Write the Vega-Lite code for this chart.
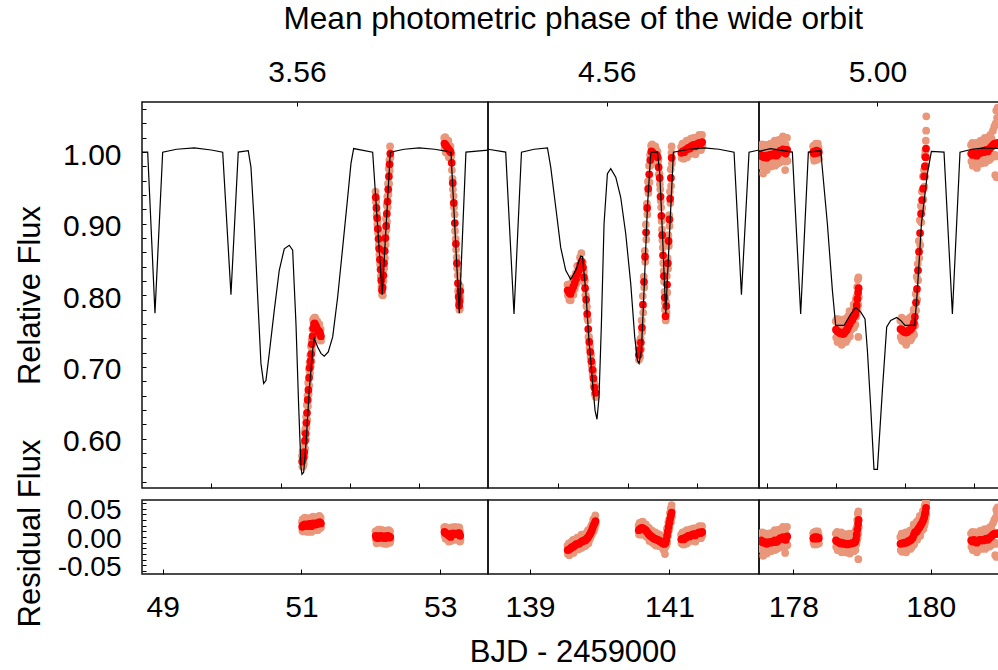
{
  "$schema": "https://vega.github.io/schema/vega-lite/v6.json",
  "background": "white",
  "padding": {"left": 13, "top": 2, "right": 0, "bottom": 0},
  "config": {
    "font": "Liberation Sans",
    "view": {"stroke": "#111111", "strokeWidth": 1.5},
    "axis": {"grid": false, "domain": false, "tickColor": "#000000", "tickWidth": 1, "labelColor": "#000000", "labelFont": "Liberation Sans", "labelFontSize": 30, "titleFont": "Liberation Sans", "titleFontSize": 31, "titleFontWeight": "normal", "titleColor": "#000000", "labelFlush": false, "labelOverlap": false, "labelBound": false}
  },
  "datasets": {
    "model": [
      {"p":1,"t":48.702,"m":1.000},{"p":1,"t":48.784,"m":1.000},{"p":1,"t":48.889,"m":0.775},{"p":1,"t":49.000,"m":1.000},{"p":1,"t":49.200,"m":1.004},{"p":1,"t":49.455,"m":1.006},{"p":1,"t":49.700,"m":1.003},{"p":1,"t":49.865,"m":1.000},{"p":1,"t":49.984,"m":0.801},{"p":1,"t":50.089,"m":1.000},{"p":1,"t":50.233,"m":1.002},{"p":1,"t":50.272,"m":0.979},{"p":1,"t":50.320,"m":0.900},{"p":1,"t":50.369,"m":0.798},{"p":1,"t":50.416,"m":0.705},{"p":1,"t":50.455,"m":0.677},{"p":1,"t":50.488,"m":0.681},{"p":1,"t":50.536,"m":0.719},{"p":1,"t":50.608,"m":0.779},{"p":1,"t":50.680,"m":0.835},{"p":1,"t":50.752,"m":0.865},{"p":1,"t":50.824,"m":0.870},{"p":1,"t":50.873,"m":0.863},{"p":1,"t":50.921,"m":0.760},{"p":1,"t":50.960,"m":0.644},{"p":1,"t":50.993,"m":0.560},{"p":1,"t":51.007,"m":0.550},{"p":1,"t":51.032,"m":0.553},{"p":1,"t":51.065,"m":0.593},{"p":1,"t":51.112,"m":0.667},{"p":1,"t":51.161,"m":0.723},{"p":1,"t":51.184,"m":0.740},{"p":1,"t":51.233,"m":0.728},{"p":1,"t":51.281,"m":0.719},{"p":1,"t":51.329,"m":0.715},{"p":1,"t":51.386,"m":0.721},{"p":1,"t":51.450,"m":0.742},{"p":1,"t":51.522,"m":0.798},{"p":1,"t":51.594,"m":0.867},{"p":1,"t":51.666,"m":0.937},{"p":1,"t":51.713,"m":0.984},{"p":1,"t":51.752,"m":1.005},{"p":1,"t":52.026,"m":1.000},{"p":1,"t":52.164,"m":0.801},{"p":1,"t":52.280,"m":1.000},{"p":1,"t":52.480,"m":1.004},{"p":1,"t":52.697,"m":1.006},{"p":1,"t":52.920,"m":1.004},{"p":1,"t":53.154,"m":1.000},{"p":1,"t":53.274,"m":0.775},{"p":1,"t":53.370,"m":1.000},{"p":1,"t":53.706,"m":1.003},
      {"p":2,"t":138.397,"m":1.004},{"p":2,"t":138.651,"m":1.000},{"p":2,"t":138.770,"m":0.774},{"p":2,"t":138.877,"m":1.000},{"p":2,"t":139.060,"m":1.004},{"p":2,"t":139.250,"m":1.006},{"p":2,"t":139.297,"m":0.979},{"p":2,"t":139.369,"m":0.923},{"p":2,"t":139.440,"m":0.867},{"p":2,"t":139.512,"m":0.835},{"p":2,"t":139.584,"m":0.822},{"p":2,"t":139.656,"m":0.835},{"p":2,"t":139.727,"m":0.855},{"p":2,"t":139.752,"m":0.854},{"p":2,"t":139.799,"m":0.807},{"p":2,"t":139.846,"m":0.737},{"p":2,"t":139.895,"m":0.681},{"p":2,"t":139.933,"m":0.639},{"p":2,"t":139.961,"m":0.627},{"p":2,"t":139.990,"m":0.658},{"p":2,"t":140.024,"m":0.760},{"p":2,"t":140.062,"m":0.900},{"p":2,"t":140.110,"m":0.970},{"p":2,"t":140.158,"m":0.977},{"p":2,"t":140.230,"m":0.965},{"p":2,"t":140.301,"m":0.937},{"p":2,"t":140.373,"m":0.886},{"p":2,"t":140.445,"m":0.816},{"p":2,"t":140.502,"m":0.742},{"p":2,"t":140.541,"m":0.709},{"p":2,"t":140.564,"m":0.705},{"p":2,"t":140.598,"m":0.723},{"p":2,"t":140.636,"m":0.807},{"p":2,"t":140.684,"m":0.923},{"p":2,"t":140.732,"m":0.998},{"p":2,"t":140.742,"m":1.000},{"p":2,"t":140.828,"m":1.000},{"p":2,"t":140.861,"m":0.970},{"p":2,"t":140.900,"m":0.886},{"p":2,"t":140.947,"m":0.774},{"p":2,"t":141.057,"m":1.000},{"p":2,"t":141.280,"m":1.004},{"p":2,"t":141.496,"m":1.006},{"p":2,"t":141.710,"m":1.004},{"p":2,"t":141.927,"m":1.000},{"p":2,"t":142.033,"m":0.801},{"p":2,"t":142.142,"m":1.000},{"p":2,"t":142.285,"m":1.003},
      {"p":3,"t":177.499,"m":1.001},{"p":3,"t":177.669,"m":1.005},{"p":3,"t":177.985,"m":1.000},{"p":3,"t":178.106,"m":0.774},{"p":3,"t":178.218,"m":1.000},{"p":3,"t":178.398,"m":1.002},{"p":3,"t":178.495,"m":0.900},{"p":3,"t":178.568,"m":0.807},{"p":3,"t":178.616,"m":0.758},{"p":3,"t":178.737,"m":0.758},{"p":3,"t":178.835,"m":0.774},{"p":3,"t":178.908,"m":0.783},{"p":3,"t":178.980,"m":0.777},{"p":3,"t":179.043,"m":0.767},{"p":3,"t":179.078,"m":0.723},{"p":3,"t":179.126,"m":0.644},{"p":3,"t":179.174,"m":0.557},{"p":3,"t":179.224,"m":0.557},{"p":3,"t":179.296,"m":0.667},{"p":3,"t":179.359,"m":0.756},{"p":3,"t":179.417,"m":0.765},{"p":3,"t":179.505,"m":0.769},{"p":3,"t":179.563,"m":0.765},{"p":3,"t":179.626,"m":0.758},{"p":3,"t":179.767,"m":0.758},{"p":3,"t":179.806,"m":0.807},{"p":3,"t":179.865,"m":0.900},{"p":3,"t":179.952,"m":0.970},{"p":3,"t":180.010,"m":1.001},{"p":3,"t":180.194,"m":1.000},{"p":3,"t":180.316,"m":0.774},{"p":3,"t":180.427,"m":1.000},{"p":3,"t":180.600,"m":1.004},{"p":3,"t":180.777,"m":1.006},{"p":3,"t":180.995,"m":1.005}
    ],
    "obs": [
      {"p":1,"k":"bin","t":51.010,"f":0.568,"r":0.018},{"p":1,"k":"bin","t":51.020,"f":0.571,"r":0.020},{"p":1,"k":"bin","t":51.030,"f":0.574,"r":0.021},{"p":1,"k":"bin","t":51.040,"f":0.581,"r":0.019},{"p":1,"k":"bin","t":51.050,"f":0.597,"r":0.022},{"p":1,"k":"bin","t":51.060,"f":0.607,"r":0.020},{"p":1,"k":"bin","t":51.070,"f":0.622,"r":0.021},{"p":1,"k":"bin","t":51.080,"f":0.636,"r":0.019},{"p":1,"k":"bin","t":51.090,"f":0.654,"r":0.022},{"p":1,"k":"bin","t":51.100,"f":0.668,"r":0.020},{"p":1,"k":"bin","t":51.110,"f":0.685,"r":0.021},{"p":1,"k":"bin","t":51.120,"f":0.699,"r":0.023},{"p":1,"k":"bin","t":51.130,"f":0.708,"r":0.020},{"p":1,"k":"bin","t":51.140,"f":0.718,"r":0.019},{"p":1,"k":"bin","t":51.150,"f":0.732,"r":0.022},{"p":1,"k":"bin","t":51.160,"f":0.743,"r":0.021},{"p":1,"k":"bin","t":51.170,"f":0.754,"r":0.024},{"p":1,"k":"bin","t":51.180,"f":0.760,"r":0.023},{"p":1,"k":"bin","t":51.190,"f":0.761,"r":0.022},{"p":1,"k":"bin","t":51.200,"f":0.758,"r":0.022},{"p":1,"k":"bin","t":51.210,"f":0.757,"r":0.024},{"p":1,"k":"bin","t":51.220,"f":0.754,"r":0.023},{"p":1,"k":"bin","t":51.230,"f":0.752,"r":0.023},{"p":1,"k":"bin","t":51.240,"f":0.751,"r":0.024},{"p":1,"k":"bin","t":51.250,"f":0.750,"r":0.025},{"p":1,"k":"bin","t":51.260,"f":0.749,"r":0.026},{"p":1,"k":"bin","t":51.270,"f":0.746,"r":0.025},{"p":1,"k":"bin","t":51.280,"f":0.743,"r":0.024},
      {"p":1,"k":"raw","t":51.007,"f":0.576,"r":0.026},{"p":1,"k":"raw","t":51.013,"f":0.561,"r":0.011},{"p":1,"k":"raw","t":51.017,"f":0.582,"r":0.031},{"p":1,"k":"raw","t":51.023,"f":0.561,"r":0.010},{"p":1,"k":"raw","t":51.027,"f":0.580,"r":0.027},{"p":1,"k":"raw","t":51.033,"f":0.565,"r":0.012},{"p":1,"k":"raw","t":51.037,"f":0.591,"r":0.029},{"p":1,"k":"raw","t":51.043,"f":0.575,"r":0.013},{"p":1,"k":"raw","t":51.047,"f":0.609,"r":0.034},{"p":1,"k":"raw","t":51.053,"f":0.586,"r":0.011},{"p":1,"k":"raw","t":51.057,"f":0.614,"r":0.027},{"p":1,"k":"raw","t":51.063,"f":0.599,"r":0.012},{"p":1,"k":"raw","t":51.067,"f":0.630,"r":0.029},{"p":1,"k":"raw","t":51.073,"f":0.615,"r":0.014},{"p":1,"k":"raw","t":51.077,"f":0.647,"r":0.030},{"p":1,"k":"raw","t":51.083,"f":0.626,"r":0.009},{"p":1,"k":"raw","t":51.087,"f":0.660,"r":0.028},{"p":1,"k":"raw","t":51.093,"f":0.645,"r":0.013},{"p":1,"k":"raw","t":51.097,"f":0.678,"r":0.030},{"p":1,"k":"raw","t":51.103,"f":0.662,"r":0.014},{"p":1,"k":"raw","t":51.107,"f":0.697,"r":0.033},{"p":1,"k":"raw","t":51.113,"f":0.674,"r":0.010},{"p":1,"k":"raw","t":51.117,"f":0.706,"r":0.030},{"p":1,"k":"raw","t":51.123,"f":0.691,"r":0.015},{"p":1,"k":"raw","t":51.127,"f":0.716,"r":0.028},{"p":1,"k":"raw","t":51.133,"f":0.701,"r":0.013},{"p":1,"k":"raw","t":51.137,"f":0.729,"r":0.030},{"p":1,"k":"raw","t":51.143,"f":0.708,"r":0.009},{"p":1,"k":"raw","t":51.147,"f":0.738,"r":0.028},{"p":1,"k":"raw","t":51.153,"f":0.723,"r":0.013},{"p":1,"k":"raw","t":51.157,"f":0.753,"r":0.031},{"p":1,"k":"raw","t":51.163,"f":0.737,"r":0.015},{"p":1,"k":"raw","t":51.167,"f":0.766,"r":0.036},{"p":1,"k":"raw","t":51.173,"f":0.743,"r":0.013},{"p":1,"k":"raw","t":51.177,"f":0.767,"r":0.030},{"p":1,"k":"raw","t":51.183,"f":0.752,"r":0.015},{"p":1,"k":"raw","t":51.187,"f":0.769,"r":0.030},{"p":1,"k":"raw","t":51.193,"f":0.754,"r":0.015},{"p":1,"k":"raw","t":51.197,"f":0.769,"r":0.033},{"p":1,"k":"raw","t":51.203,"f":0.748,"r":0.012},{"p":1,"k":"raw","t":51.207,"f":0.763,"r":0.030},{"p":1,"k":"raw","t":51.213,"f":0.748,"r":0.015},{"p":1,"k":"raw","t":51.217,"f":0.764,"r":0.033},{"p":1,"k":"raw","t":51.223,"f":0.748,"r":0.017},{"p":1,"k":"raw","t":51.227,"f":0.764,"r":0.035},{"p":1,"k":"raw","t":51.233,"f":0.741,"r":0.012},{"p":1,"k":"raw","t":51.237,"f":0.758,"r":0.031},{"p":1,"k":"raw","t":51.243,"f":0.743,"r":0.016},{"p":1,"k":"raw","t":51.247,"f":0.758,"r":0.033},{"p":1,"k":"raw","t":51.253,"f":0.743,"r":0.018},{"p":1,"k":"raw","t":51.257,"f":0.760,"r":0.037},{"p":1,"k":"raw","t":51.263,"f":0.739,"r":0.016},{"p":1,"k":"raw","t":51.267,"f":0.752,"r":0.031},{"p":1,"k":"raw","t":51.273,"f":0.737,"r":0.016},{"p":1,"k":"raw","t":51.277,"f":0.753,"r":0.034},{"p":1,"k":"raw","t":51.283,"f":0.737,"r":0.018},
      {"p":1,"k":"bin","t":52.070,"f":0.937,"r":0.002},{"p":1,"k":"bin","t":52.080,"f":0.922,"r":-0.001},{"p":1,"k":"bin","t":52.090,"f":0.908,"r":0.000},{"p":1,"k":"bin","t":52.100,"f":0.893,"r":-0.002},{"p":1,"k":"bin","t":52.110,"f":0.879,"r":0.001},{"p":1,"k":"bin","t":52.120,"f":0.865,"r":0.000},{"p":1,"k":"bin","t":52.130,"f":0.850,"r":-0.001},{"p":1,"k":"bin","t":52.140,"f":0.836,"r":0.002},{"p":1,"k":"bin","t":52.150,"f":0.821,"r":0.000},{"p":1,"k":"bin","t":52.160,"f":0.807,"r":-0.001},{"p":1,"k":"bin","t":52.170,"f":0.811,"r":0.000},{"p":1,"k":"bin","t":52.180,"f":0.828,"r":0.001},{"p":1,"k":"bin","t":52.190,"f":0.845,"r":0.000},{"p":1,"k":"bin","t":52.200,"f":0.862,"r":-0.002},{"p":1,"k":"bin","t":52.210,"f":0.880,"r":0.001},{"p":1,"k":"bin","t":52.220,"f":0.897,"r":0.000},{"p":1,"k":"bin","t":52.230,"f":0.914,"r":-0.001},{"p":1,"k":"bin","t":52.240,"f":0.931,"r":0.002},{"p":1,"k":"bin","t":52.250,"f":0.948,"r":0.000},{"p":1,"k":"bin","t":52.260,"f":0.966,"r":0.001},{"p":1,"k":"bin","t":52.270,"f":0.983,"r":-0.001},{"p":1,"k":"bin","t":52.280,"f":0.998,"r":0.000},
      {"p":1,"k":"raw","t":52.067,"f":0.945,"r":0.010},{"p":1,"k":"raw","t":52.073,"f":0.930,"r":-0.005},{"p":1,"k":"raw","t":52.077,"f":0.933,"r":0.010},{"p":1,"k":"raw","t":52.083,"f":0.912,"r":-0.011},{"p":1,"k":"raw","t":52.087,"f":0.914,"r":0.006},{"p":1,"k":"raw","t":52.093,"f":0.899,"r":-0.009},{"p":1,"k":"raw","t":52.097,"f":0.903,"r":0.008},{"p":1,"k":"raw","t":52.103,"f":0.887,"r":-0.008},{"p":1,"k":"raw","t":52.107,"f":0.891,"r":0.013},{"p":1,"k":"raw","t":52.113,"f":0.868,"r":-0.010},{"p":1,"k":"raw","t":52.117,"f":0.872,"r":0.007},{"p":1,"k":"raw","t":52.123,"f":0.857,"r":-0.008},{"p":1,"k":"raw","t":52.127,"f":0.858,"r":0.007},{"p":1,"k":"raw","t":52.133,"f":0.843,"r":-0.008},{"p":1,"k":"raw","t":52.137,"f":0.847,"r":0.013},{"p":1,"k":"raw","t":52.143,"f":0.826,"r":-0.008},{"p":1,"k":"raw","t":52.147,"f":0.827,"r":0.006},{"p":1,"k":"raw","t":52.153,"f":0.812,"r":-0.009},{"p":1,"k":"raw","t":52.157,"f":0.817,"r":0.009},{"p":1,"k":"raw","t":52.163,"f":0.801,"r":-0.007},{"p":1,"k":"raw","t":52.167,"f":0.823,"r":0.012},{"p":1,"k":"raw","t":52.173,"f":0.800,"r":-0.011},{"p":1,"k":"raw","t":52.177,"f":0.835,"r":0.008},{"p":1,"k":"raw","t":52.183,"f":0.820,"r":-0.007},{"p":1,"k":"raw","t":52.187,"f":0.853,"r":0.008},{"p":1,"k":"raw","t":52.193,"f":0.838,"r":-0.007},{"p":1,"k":"raw","t":52.197,"f":0.873,"r":0.009},{"p":1,"k":"raw","t":52.203,"f":0.852,"r":-0.012},{"p":1,"k":"raw","t":52.207,"f":0.886,"r":0.007},{"p":1,"k":"raw","t":52.213,"f":0.871,"r":-0.008},{"p":1,"k":"raw","t":52.217,"f":0.907,"r":0.010},{"p":1,"k":"raw","t":52.223,"f":0.891,"r":-0.006},{"p":1,"k":"raw","t":52.227,"f":0.926,"r":0.011},{"p":1,"k":"raw","t":52.233,"f":0.903,"r":-0.012},{"p":1,"k":"raw","t":52.237,"f":0.938,"r":0.009},{"p":1,"k":"raw","t":52.243,"f":0.923,"r":-0.006},{"p":1,"k":"raw","t":52.247,"f":0.956,"r":0.008},{"p":1,"k":"raw","t":52.253,"f":0.941,"r":-0.007},{"p":1,"k":"raw","t":52.257,"f":0.977,"r":0.012},{"p":1,"k":"raw","t":52.263,"f":0.956,"r":-0.009},{"p":1,"k":"raw","t":52.267,"f":0.989,"r":0.005},{"p":1,"k":"raw","t":52.273,"f":0.974,"r":-0.010},{"p":1,"k":"raw","t":52.277,"f":1.008,"r":0.010},{"p":1,"k":"raw","t":52.283,"f":0.992,"r":-0.006},
      {"p":1,"k":"bin","t":53.060,"f":1.012,"r":0.009},{"p":1,"k":"bin","t":53.075,"f":1.010,"r":0.007},{"p":1,"k":"bin","t":53.090,"f":1.008,"r":0.006},{"p":1,"k":"bin","t":53.105,"f":1.006,"r":0.005},{"p":1,"k":"bin","t":53.120,"f":1.004,"r":0.003},{"p":1,"k":"bin","t":53.135,"f":1.002,"r":0.002},{"p":1,"k":"bin","t":53.150,"f":1.000,"r":0.000},{"p":1,"k":"bin","t":53.165,"f":0.985,"r":0.006},{"p":1,"k":"bin","t":53.180,"f":0.957,"r":0.006},{"p":1,"k":"bin","t":53.195,"f":0.929,"r":0.006},{"p":1,"k":"bin","t":53.210,"f":0.901,"r":0.006},{"p":1,"k":"bin","t":53.225,"f":0.872,"r":0.005},{"p":1,"k":"bin","t":53.240,"f":0.845,"r":0.006},{"p":1,"k":"bin","t":53.255,"f":0.817,"r":0.006},{"p":1,"k":"bin","t":53.265,"f":0.798,"r":0.006},{"p":1,"k":"bin","t":53.272,"f":0.786,"r":0.007},{"p":1,"k":"bin","t":53.280,"f":0.792,"r":0.003},{"p":1,"k":"bin","t":53.288,"f":0.806,"r":0.002},
      {"p":1,"k":"raw","t":53.057,"f":1.020,"r":0.017},{"p":1,"k":"raw","t":53.063,"f":1.005,"r":0.002},{"p":1,"k":"raw","t":53.072,"f":1.021,"r":0.018},{"p":1,"k":"raw","t":53.078,"f":1.000,"r":-0.003},{"p":1,"k":"raw","t":53.087,"f":1.014,"r":0.012},{"p":1,"k":"raw","t":53.093,"f":0.999,"r":-0.003},{"p":1,"k":"raw","t":53.102,"f":1.016,"r":0.015},{"p":1,"k":"raw","t":53.108,"f":1.000,"r":-0.001},{"p":1,"k":"raw","t":53.117,"f":1.016,"r":0.015},{"p":1,"k":"raw","t":53.123,"f":0.993,"r":-0.008},{"p":1,"k":"raw","t":53.132,"f":1.009,"r":0.009},{"p":1,"k":"raw","t":53.138,"f":0.994,"r":-0.006},{"p":1,"k":"raw","t":53.147,"f":1.008,"r":0.008},{"p":1,"k":"raw","t":53.153,"f":0.993,"r":-0.007},{"p":1,"k":"raw","t":53.162,"f":0.996,"r":0.017},{"p":1,"k":"raw","t":53.168,"f":0.975,"r":-0.004},{"p":1,"k":"raw","t":53.177,"f":0.963,"r":0.012},{"p":1,"k":"raw","t":53.183,"f":0.948,"r":-0.003},{"p":1,"k":"raw","t":53.192,"f":0.939,"r":0.016},{"p":1,"k":"raw","t":53.198,"f":0.923,"r":0.000},{"p":1,"k":"raw","t":53.207,"f":0.913,"r":0.018},{"p":1,"k":"raw","t":53.213,"f":0.890,"r":-0.005},{"p":1,"k":"raw","t":53.222,"f":0.879,"r":0.012},{"p":1,"k":"raw","t":53.228,"f":0.864,"r":-0.003},{"p":1,"k":"raw","t":53.237,"f":0.853,"r":0.014},{"p":1,"k":"raw","t":53.243,"f":0.838,"r":-0.001},{"p":1,"k":"raw","t":53.252,"f":0.828,"r":0.017},{"p":1,"k":"raw","t":53.258,"f":0.807,"r":-0.004},{"p":1,"k":"raw","t":53.262,"f":0.804,"r":0.012},{"p":1,"k":"raw","t":53.268,"f":0.789,"r":-0.003},{"p":1,"k":"raw","t":53.269,"f":0.796,"r":0.017},{"p":1,"k":"raw","t":53.275,"f":0.780,"r":0.001},{"p":1,"k":"raw","t":53.277,"f":0.805,"r":0.016},{"p":1,"k":"raw","t":53.283,"f":0.781,"r":-0.008},{"p":1,"k":"raw","t":53.285,"f":0.813,"r":0.009},{"p":1,"k":"raw","t":53.291,"f":0.798,"r":-0.006},
      {"p":2,"k":"bin","t":139.540,"f":0.807,"r":-0.023},{"p":2,"k":"bin","t":139.560,"f":0.804,"r":-0.022},{"p":2,"k":"bin","t":139.580,"f":0.802,"r":-0.020},{"p":2,"k":"bin","t":139.600,"f":0.807,"r":-0.018},{"p":2,"k":"bin","t":139.620,"f":0.812,"r":-0.017},{"p":2,"k":"bin","t":139.640,"f":0.817,"r":-0.015},{"p":2,"k":"bin","t":139.660,"f":0.823,"r":-0.013},{"p":2,"k":"bin","t":139.680,"f":0.830,"r":-0.012},{"p":2,"k":"bin","t":139.700,"f":0.835,"r":-0.012},{"p":2,"k":"bin","t":139.720,"f":0.843,"r":-0.010},{"p":2,"k":"bin","t":139.740,"f":0.847,"r":-0.008},{"p":2,"k":"bin","t":139.760,"f":0.839,"r":-0.007},{"p":2,"k":"bin","t":139.775,"f":0.825,"r":-0.006},{"p":2,"k":"bin","t":139.790,"f":0.810,"r":-0.006},{"p":2,"k":"bin","t":139.805,"f":0.794,"r":-0.004},{"p":2,"k":"bin","t":139.820,"f":0.774,"r":-0.002},{"p":2,"k":"bin","t":139.835,"f":0.753,"r":0.000},{"p":2,"k":"bin","t":139.850,"f":0.735,"r":0.003},{"p":2,"k":"bin","t":139.865,"f":0.721,"r":0.006},{"p":2,"k":"bin","t":139.880,"f":0.708,"r":0.010},{"p":2,"k":"bin","t":139.895,"f":0.696,"r":0.015},{"p":2,"k":"bin","t":139.910,"f":0.684,"r":0.020},{"p":2,"k":"bin","t":139.925,"f":0.671,"r":0.024},{"p":2,"k":"bin","t":139.940,"f":0.664,"r":0.028},
      {"p":2,"k":"raw","t":139.537,"f":0.815,"r":-0.015},{"p":2,"k":"raw","t":139.543,"f":0.800,"r":-0.030},{"p":2,"k":"raw","t":139.557,"f":0.815,"r":-0.011},{"p":2,"k":"raw","t":139.563,"f":0.794,"r":-0.032},{"p":2,"k":"raw","t":139.577,"f":0.808,"r":-0.014},{"p":2,"k":"raw","t":139.583,"f":0.793,"r":-0.029},{"p":2,"k":"raw","t":139.597,"f":0.817,"r":-0.008},{"p":2,"k":"raw","t":139.603,"f":0.801,"r":-0.024},{"p":2,"k":"raw","t":139.617,"f":0.824,"r":-0.005},{"p":2,"k":"raw","t":139.623,"f":0.801,"r":-0.028},{"p":2,"k":"raw","t":139.637,"f":0.824,"r":-0.008},{"p":2,"k":"raw","t":139.643,"f":0.809,"r":-0.023},{"p":2,"k":"raw","t":139.657,"f":0.831,"r":-0.005},{"p":2,"k":"raw","t":139.663,"f":0.816,"r":-0.020},{"p":2,"k":"raw","t":139.677,"f":0.841,"r":-0.001},{"p":2,"k":"raw","t":139.683,"f":0.820,"r":-0.022},{"p":2,"k":"raw","t":139.697,"f":0.841,"r":-0.006},{"p":2,"k":"raw","t":139.703,"f":0.826,"r":-0.021},{"p":2,"k":"raw","t":139.717,"f":0.853,"r":0.000},{"p":2,"k":"raw","t":139.723,"f":0.837,"r":-0.016},{"p":2,"k":"raw","t":139.737,"f":0.859,"r":0.004},{"p":2,"k":"raw","t":139.743,"f":0.836,"r":-0.019},{"p":2,"k":"raw","t":139.757,"f":0.846,"r":0.000},{"p":2,"k":"raw","t":139.763,"f":0.831,"r":-0.015},{"p":2,"k":"raw","t":139.772,"f":0.833,"r":0.002},{"p":2,"k":"raw","t":139.778,"f":0.818,"r":-0.013},{"p":2,"k":"raw","t":139.787,"f":0.821,"r":0.005},{"p":2,"k":"raw","t":139.793,"f":0.800,"r":-0.016},{"p":2,"k":"raw","t":139.802,"f":0.800,"r":0.002},{"p":2,"k":"raw","t":139.808,"f":0.785,"r":-0.013},{"p":2,"k":"raw","t":139.817,"f":0.784,"r":0.008},{"p":2,"k":"raw","t":139.823,"f":0.768,"r":-0.008},{"p":2,"k":"raw","t":139.832,"f":0.765,"r":0.012},{"p":2,"k":"raw","t":139.838,"f":0.742,"r":-0.011},{"p":2,"k":"raw","t":139.847,"f":0.742,"r":0.010},{"p":2,"k":"raw","t":139.853,"f":0.727,"r":-0.005},{"p":2,"k":"raw","t":139.862,"f":0.729,"r":0.014},{"p":2,"k":"raw","t":139.868,"f":0.714,"r":-0.001},{"p":2,"k":"raw","t":139.877,"f":0.717,"r":0.019},{"p":2,"k":"raw","t":139.883,"f":0.702,"r":0.004},{"p":2,"k":"raw","t":139.892,"f":0.704,"r":0.023},{"p":2,"k":"raw","t":139.898,"f":0.689,"r":0.008},{"p":2,"k":"raw","t":139.907,"f":0.695,"r":0.031},{"p":2,"k":"raw","t":139.913,"f":0.674,"r":0.010},{"p":2,"k":"raw","t":139.922,"f":0.677,"r":0.030},{"p":2,"k":"raw","t":139.928,"f":0.662,"r":0.015},{"p":2,"k":"raw","t":139.937,"f":0.674,"r":0.038},{"p":2,"k":"raw","t":139.943,"f":0.658,"r":0.022},
      {"p":2,"k":"bin","t":140.560,"f":0.717,"r":0.012},{"p":2,"k":"bin","t":140.575,"f":0.724,"r":0.014},{"p":2,"k":"bin","t":140.590,"f":0.734,"r":0.015},{"p":2,"k":"bin","t":140.605,"f":0.755,"r":0.016},{"p":2,"k":"bin","t":140.620,"f":0.787,"r":0.015},{"p":2,"k":"bin","t":140.635,"f":0.819,"r":0.014},{"p":2,"k":"bin","t":140.650,"f":0.854,"r":0.013},{"p":2,"k":"bin","t":140.665,"f":0.888,"r":0.011},{"p":2,"k":"bin","t":140.680,"f":0.922,"r":0.009},{"p":2,"k":"bin","t":140.695,"f":0.949,"r":0.006},{"p":2,"k":"bin","t":140.710,"f":0.969,"r":0.004},{"p":2,"k":"bin","t":140.725,"f":0.989,"r":0.002},{"p":2,"k":"bin","t":140.740,"f":1.001,"r":0.001},{"p":2,"k":"bin","t":140.755,"f":1.000,"r":0.000},{"p":2,"k":"bin","t":140.770,"f":0.998,"r":-0.002},{"p":2,"k":"bin","t":140.785,"f":0.997,"r":-0.003},{"p":2,"k":"bin","t":140.800,"f":0.996,"r":-0.004},{"p":2,"k":"bin","t":140.815,"f":0.996,"r":-0.004},{"p":2,"k":"bin","t":140.830,"f":0.993,"r":-0.005},{"p":2,"k":"bin","t":140.845,"f":0.979,"r":-0.006},{"p":2,"k":"bin","t":140.860,"f":0.964,"r":-0.007},{"p":2,"k":"bin","t":140.872,"f":0.938,"r":-0.008},{"p":2,"k":"bin","t":140.884,"f":0.911,"r":-0.009},{"p":2,"k":"bin","t":140.896,"f":0.884,"r":-0.010},{"p":2,"k":"bin","t":140.908,"f":0.856,"r":-0.011},{"p":2,"k":"bin","t":140.920,"f":0.827,"r":-0.012},{"p":2,"k":"bin","t":140.932,"f":0.797,"r":-0.012},{"p":2,"k":"bin","t":140.944,"f":0.771,"r":-0.010},{"p":2,"k":"bin","t":140.955,"f":0.785,"r":-0.005},{"p":2,"k":"bin","t":140.966,"f":0.815,"r":0.002},{"p":2,"k":"bin","t":140.977,"f":0.845,"r":0.010},{"p":2,"k":"bin","t":140.988,"f":0.876,"r":0.018},{"p":2,"k":"bin","t":140.999,"f":0.906,"r":0.025},{"p":2,"k":"bin","t":141.010,"f":0.935,"r":0.032},{"p":2,"k":"bin","t":141.021,"f":0.964,"r":0.038},{"p":2,"k":"bin","t":141.032,"f":0.992,"r":0.043},
      {"p":2,"k":"raw","t":140.557,"f":0.725,"r":0.020},{"p":2,"k":"raw","t":140.563,"f":0.710,"r":0.005},{"p":2,"k":"raw","t":140.572,"f":0.735,"r":0.025},{"p":2,"k":"raw","t":140.578,"f":0.714,"r":0.004},{"p":2,"k":"raw","t":140.587,"f":0.740,"r":0.021},{"p":2,"k":"raw","t":140.593,"f":0.725,"r":0.006},{"p":2,"k":"raw","t":140.602,"f":0.765,"r":0.026},{"p":2,"k":"raw","t":140.608,"f":0.749,"r":0.010},{"p":2,"k":"raw","t":140.617,"f":0.799,"r":0.027},{"p":2,"k":"raw","t":140.623,"f":0.776,"r":0.004},{"p":2,"k":"raw","t":140.632,"f":0.826,"r":0.021},{"p":2,"k":"raw","t":140.638,"f":0.811,"r":0.006},{"p":2,"k":"raw","t":140.647,"f":0.862,"r":0.021},{"p":2,"k":"raw","t":140.653,"f":0.847,"r":0.006},{"p":2,"k":"raw","t":140.662,"f":0.899,"r":0.022},{"p":2,"k":"raw","t":140.668,"f":0.878,"r":0.001},{"p":2,"k":"raw","t":140.677,"f":0.928,"r":0.015},{"p":2,"k":"raw","t":140.683,"f":0.913,"r":0.000},{"p":2,"k":"raw","t":140.692,"f":0.959,"r":0.016},{"p":2,"k":"raw","t":140.698,"f":0.943,"r":0.000},{"p":2,"k":"raw","t":140.707,"f":0.981,"r":0.016},{"p":2,"k":"raw","t":140.713,"f":0.958,"r":-0.007},{"p":2,"k":"raw","t":140.722,"f":0.996,"r":0.009},{"p":2,"k":"raw","t":140.728,"f":0.981,"r":-0.006},{"p":2,"k":"raw","t":140.737,"f":1.009,"r":0.009},{"p":2,"k":"raw","t":140.743,"f":0.994,"r":-0.006},{"p":2,"k":"raw","t":140.752,"f":1.011,"r":0.011},{"p":2,"k":"raw","t":140.758,"f":0.990,"r":-0.010},{"p":2,"k":"raw","t":140.767,"f":1.004,"r":0.004},{"p":2,"k":"raw","t":140.773,"f":0.989,"r":-0.011},{"p":2,"k":"raw","t":140.782,"f":1.007,"r":0.007},{"p":2,"k":"raw","t":140.788,"f":0.991,"r":-0.009},{"p":2,"k":"raw","t":140.797,"f":1.008,"r":0.008},{"p":2,"k":"raw","t":140.803,"f":0.985,"r":-0.015},{"p":2,"k":"raw","t":140.812,"f":1.003,"r":0.003},{"p":2,"k":"raw","t":140.818,"f":0.988,"r":-0.012},{"p":2,"k":"raw","t":140.827,"f":1.001,"r":0.003},{"p":2,"k":"raw","t":140.833,"f":0.986,"r":-0.012},{"p":2,"k":"raw","t":140.842,"f":0.990,"r":0.005},{"p":2,"k":"raw","t":140.848,"f":0.969,"r":-0.016},{"p":2,"k":"raw","t":140.857,"f":0.970,"r":-0.001},{"p":2,"k":"raw","t":140.863,"f":0.955,"r":-0.016},{"p":2,"k":"raw","t":140.869,"f":0.948,"r":0.002},{"p":2,"k":"raw","t":140.875,"f":0.932,"r":-0.014},{"p":2,"k":"raw","t":140.881,"f":0.923,"r":0.003},{"p":2,"k":"raw","t":140.887,"f":0.904,"r":-0.016},{"p":2,"k":"raw","t":140.893,"f":0.892,"r":-0.002},{"p":2,"k":"raw","t":140.899,"f":0.877,"r":-0.017},{"p":2,"k":"raw","t":140.905,"f":0.867,"r":0.000},{"p":2,"k":"raw","t":140.911,"f":0.845,"r":-0.022},{"p":2,"k":"raw","t":140.917,"f":0.834,"r":-0.005},{"p":2,"k":"raw","t":140.923,"f":0.819,"r":-0.020},{"p":2,"k":"raw","t":140.929,"f":0.805,"r":-0.004},{"p":2,"k":"raw","t":140.935,"f":0.790,"r":-0.019},{"p":2,"k":"raw","t":140.941,"f":0.781,"r":0.000},{"p":2,"k":"raw","t":140.947,"f":0.765,"r":-0.016},{"p":2,"k":"raw","t":140.952,"f":0.791,"r":0.001},{"p":2,"k":"raw","t":140.958,"f":0.776,"r":-0.014},{"p":2,"k":"raw","t":140.963,"f":0.827,"r":0.014},{"p":2,"k":"raw","t":140.969,"f":0.804,"r":-0.009},{"p":2,"k":"raw","t":140.974,"f":0.852,"r":0.017},{"p":2,"k":"raw","t":140.980,"f":0.837,"r":0.002},{"p":2,"k":"raw","t":140.985,"f":0.884,"r":0.026},{"p":2,"k":"raw","t":140.991,"f":0.869,"r":0.011},{"p":2,"k":"raw","t":140.996,"f":0.912,"r":0.031},{"p":2,"k":"raw","t":141.002,"f":0.897,"r":0.016},{"p":2,"k":"raw","t":141.007,"f":0.945,"r":0.042},{"p":2,"k":"raw","t":141.013,"f":0.929,"r":0.026},{"p":2,"k":"raw","t":141.018,"f":0.976,"r":0.050},{"p":2,"k":"raw","t":141.024,"f":0.953,"r":0.027},{"p":2,"k":"raw","t":141.029,"f":0.999,"r":0.050},{"p":2,"k":"raw","t":141.035,"f":0.984,"r":0.035},{"p":2,"k":"raw","t":140.936,"f":0.780,"r":-0.030},{"p":2,"k":"raw","t":141.031,"f":1.008,"r":0.056},
      {"p":2,"k":"bin","t":141.170,"f":0.999,"r":-0.004},{"p":2,"k":"bin","t":141.190,"f":1.001,"r":-0.003},{"p":2,"k":"bin","t":141.210,"f":1.000,"r":-0.004},{"p":2,"k":"bin","t":141.230,"f":1.003,"r":-0.001},{"p":2,"k":"bin","t":141.250,"f":1.004,"r":0.000},{"p":2,"k":"bin","t":141.270,"f":1.006,"r":0.002},{"p":2,"k":"bin","t":141.290,"f":1.005,"r":0.001},{"p":2,"k":"bin","t":141.310,"f":1.008,"r":0.003},{"p":2,"k":"bin","t":141.330,"f":1.009,"r":0.004},{"p":2,"k":"bin","t":141.350,"f":1.010,"r":0.005},{"p":2,"k":"bin","t":141.370,"f":1.008,"r":0.003},{"p":2,"k":"bin","t":141.390,"f":1.011,"r":0.006},{"p":2,"k":"bin","t":141.410,"f":1.012,"r":0.007},{"p":2,"k":"bin","t":141.430,"f":1.013,"r":0.008},{"p":2,"k":"bin","t":141.450,"f":1.012,"r":0.007},{"p":2,"k":"bin","t":141.470,"f":1.014,"r":0.009},
      {"p":2,"k":"raw","t":141.167,"f":1.007,"r":0.004},{"p":2,"k":"raw","t":141.173,"f":0.992,"r":-0.011},{"p":2,"k":"raw","t":141.187,"f":1.012,"r":0.008},{"p":2,"k":"raw","t":141.193,"f":0.991,"r":-0.013},{"p":2,"k":"raw","t":141.207,"f":1.006,"r":0.002},{"p":2,"k":"raw","t":141.213,"f":0.991,"r":-0.013},{"p":2,"k":"raw","t":141.227,"f":1.013,"r":0.009},{"p":2,"k":"raw","t":141.233,"f":0.997,"r":-0.007},{"p":2,"k":"raw","t":141.247,"f":1.016,"r":0.012},{"p":2,"k":"raw","t":141.253,"f":0.993,"r":-0.011},{"p":2,"k":"raw","t":141.267,"f":1.013,"r":0.009},{"p":2,"k":"raw","t":141.273,"f":0.998,"r":-0.006},{"p":2,"k":"raw","t":141.287,"f":1.013,"r":0.009},{"p":2,"k":"raw","t":141.293,"f":0.998,"r":-0.006},{"p":2,"k":"raw","t":141.307,"f":1.019,"r":0.014},{"p":2,"k":"raw","t":141.313,"f":0.998,"r":-0.007},{"p":2,"k":"raw","t":141.327,"f":1.015,"r":0.010},{"p":2,"k":"raw","t":141.333,"f":1.000,"r":-0.005},{"p":2,"k":"raw","t":141.347,"f":1.020,"r":0.015},{"p":2,"k":"raw","t":141.353,"f":1.004,"r":-0.001},{"p":2,"k":"raw","t":141.367,"f":1.020,"r":0.015},{"p":2,"k":"raw","t":141.373,"f":0.997,"r":-0.008},{"p":2,"k":"raw","t":141.387,"f":1.018,"r":0.013},{"p":2,"k":"raw","t":141.393,"f":1.003,"r":-0.002},{"p":2,"k":"raw","t":141.407,"f":1.020,"r":0.015},{"p":2,"k":"raw","t":141.413,"f":1.005,"r":0.000},{"p":2,"k":"raw","t":141.427,"f":1.024,"r":0.019},{"p":2,"k":"raw","t":141.433,"f":1.003,"r":-0.002},{"p":2,"k":"raw","t":141.447,"f":1.018,"r":0.013},{"p":2,"k":"raw","t":141.453,"f":1.003,"r":-0.002},{"p":2,"k":"raw","t":141.467,"f":1.024,"r":0.019},{"p":2,"k":"raw","t":141.473,"f":1.008,"r":0.003},
      {"p":3,"k":"bin","t":177.530,"f":0.996,"r":-0.006},{"p":3,"k":"bin","t":177.550,"f":0.994,"r":-0.009},{"p":3,"k":"bin","t":177.570,"f":0.993,"r":-0.010},{"p":3,"k":"bin","t":177.590,"f":0.995,"r":-0.009},{"p":3,"k":"bin","t":177.610,"f":0.992,"r":-0.012},{"p":3,"k":"bin","t":177.630,"f":0.994,"r":-0.010},{"p":3,"k":"bin","t":177.650,"f":0.996,"r":-0.009},{"p":3,"k":"bin","t":177.670,"f":0.995,"r":-0.010},{"p":3,"k":"bin","t":177.690,"f":0.997,"r":-0.008},{"p":3,"k":"bin","t":177.710,"f":0.996,"r":-0.009},{"p":3,"k":"bin","t":177.730,"f":0.998,"r":-0.006},{"p":3,"k":"bin","t":177.750,"f":0.995,"r":-0.009},{"p":3,"k":"bin","t":177.770,"f":0.997,"r":-0.007},{"p":3,"k":"bin","t":177.790,"f":1.000,"r":-0.004},{"p":3,"k":"bin","t":177.810,"f":1.002,"r":-0.002},{"p":3,"k":"bin","t":177.830,"f":1.001,"r":-0.003},{"p":3,"k":"bin","t":177.850,"f":1.004,"r":0.000},{"p":3,"k":"bin","t":177.870,"f":1.000,"r":-0.004},{"p":3,"k":"bin","t":177.890,"f":0.998,"r":-0.005},{"p":3,"k":"bin","t":177.910,"f":1.003,"r":0.001},
      {"p":3,"k":"raw","t":177.527,"f":1.008,"r":0.006},{"p":3,"k":"raw","t":177.533,"f":0.985,"r":-0.017},{"p":3,"k":"raw","t":177.547,"f":1.011,"r":0.008},{"p":3,"k":"raw","t":177.553,"f":0.979,"r":-0.024},{"p":3,"k":"raw","t":177.567,"f":1.002,"r":-0.001},{"p":3,"k":"raw","t":177.573,"f":0.979,"r":-0.024},{"p":3,"k":"raw","t":177.587,"f":1.010,"r":0.006},{"p":3,"k":"raw","t":177.593,"f":0.986,"r":-0.018},{"p":3,"k":"raw","t":177.607,"f":1.010,"r":0.006},{"p":3,"k":"raw","t":177.613,"f":0.975,"r":-0.029},{"p":3,"k":"raw","t":177.627,"f":1.005,"r":0.001},{"p":3,"k":"raw","t":177.633,"f":0.982,"r":-0.022},{"p":3,"k":"raw","t":177.647,"f":1.008,"r":0.003},{"p":3,"k":"raw","t":177.653,"f":0.985,"r":-0.020},{"p":3,"k":"raw","t":177.667,"f":1.012,"r":0.007},{"p":3,"k":"raw","t":177.673,"f":0.980,"r":-0.025},{"p":3,"k":"raw","t":177.687,"f":1.006,"r":0.001},{"p":3,"k":"raw","t":177.693,"f":0.983,"r":-0.022},{"p":3,"k":"raw","t":177.707,"f":1.011,"r":0.006},{"p":3,"k":"raw","t":177.713,"f":0.987,"r":-0.018},{"p":3,"k":"raw","t":177.727,"f":1.016,"r":0.012},{"p":3,"k":"raw","t":177.733,"f":0.981,"r":-0.023},{"p":3,"k":"raw","t":177.747,"f":1.006,"r":0.002},{"p":3,"k":"raw","t":177.753,"f":0.983,"r":-0.021},{"p":3,"k":"raw","t":177.767,"f":1.009,"r":0.005},{"p":3,"k":"raw","t":177.773,"f":0.986,"r":-0.018},{"p":3,"k":"raw","t":177.787,"f":1.017,"r":0.013},{"p":3,"k":"raw","t":177.793,"f":0.985,"r":-0.019},{"p":3,"k":"raw","t":177.807,"f":1.011,"r":0.007},{"p":3,"k":"raw","t":177.813,"f":0.988,"r":-0.016},{"p":3,"k":"raw","t":177.827,"f":1.016,"r":0.012},{"p":3,"k":"raw","t":177.833,"f":0.992,"r":-0.012},{"p":3,"k":"raw","t":177.847,"f":1.022,"r":0.018},{"p":3,"k":"raw","t":177.853,"f":0.987,"r":-0.017},{"p":3,"k":"raw","t":177.867,"f":1.011,"r":0.007},{"p":3,"k":"raw","t":177.873,"f":0.988,"r":-0.016},{"p":3,"k":"raw","t":177.887,"f":1.010,"r":0.007},{"p":3,"k":"raw","t":177.893,"f":0.987,"r":-0.016},{"p":3,"k":"raw","t":177.907,"f":1.020,"r":0.018},{"p":3,"k":"raw","t":177.913,"f":0.988,"r":-0.014},{"p":3,"k":"raw","t":177.560,"f":0.970,"r":-0.033},{"p":3,"k":"raw","t":177.880,"f":0.975,"r":-0.028},
      {"p":3,"k":"bin","t":178.290,"f":1.000,"r":-0.002},{"p":3,"k":"bin","t":178.300,"f":0.998,"r":-0.003},{"p":3,"k":"bin","t":178.310,"f":1.001,"r":0.000},{"p":3,"k":"bin","t":178.320,"f":0.999,"r":-0.002},{"p":3,"k":"bin","t":178.330,"f":1.000,"r":-0.002},{"p":3,"k":"bin","t":178.340,"f":1.002,"r":0.000},{"p":3,"k":"bin","t":178.350,"f":0.999,"r":-0.003},{"p":3,"k":"bin","t":178.360,"f":1.001,"r":-0.001},{"p":3,"k":"bin","t":178.370,"f":1.000,"r":-0.002},
      {"p":3,"k":"raw","t":178.287,"f":1.008,"r":0.006},{"p":3,"k":"raw","t":178.293,"f":0.993,"r":-0.009},{"p":3,"k":"raw","t":178.297,"f":1.009,"r":0.008},{"p":3,"k":"raw","t":178.303,"f":0.988,"r":-0.013},{"p":3,"k":"raw","t":178.307,"f":1.007,"r":0.006},{"p":3,"k":"raw","t":178.313,"f":0.992,"r":-0.009},{"p":3,"k":"raw","t":178.317,"f":1.009,"r":0.008},{"p":3,"k":"raw","t":178.323,"f":0.993,"r":-0.008},{"p":3,"k":"raw","t":178.327,"f":1.012,"r":0.010},{"p":3,"k":"raw","t":178.333,"f":0.989,"r":-0.013},{"p":3,"k":"raw","t":178.337,"f":1.009,"r":0.007},{"p":3,"k":"raw","t":178.343,"f":0.994,"r":-0.008},{"p":3,"k":"raw","t":178.347,"f":1.007,"r":0.005},{"p":3,"k":"raw","t":178.353,"f":0.992,"r":-0.010},{"p":3,"k":"raw","t":178.357,"f":1.012,"r":0.010},{"p":3,"k":"raw","t":178.363,"f":0.991,"r":-0.011},{"p":3,"k":"raw","t":178.367,"f":1.006,"r":0.004},{"p":3,"k":"raw","t":178.373,"f":0.991,"r":-0.011},
      {"p":3,"k":"bin","t":178.620,"f":0.752,"r":-0.006},{"p":3,"k":"bin","t":178.640,"f":0.750,"r":-0.008},{"p":3,"k":"bin","t":178.660,"f":0.749,"r":-0.009},{"p":3,"k":"bin","t":178.680,"f":0.747,"r":-0.011},{"p":3,"k":"bin","t":178.700,"f":0.748,"r":-0.010},{"p":3,"k":"bin","t":178.720,"f":0.746,"r":-0.012},{"p":3,"k":"bin","t":178.740,"f":0.747,"r":-0.011},{"p":3,"k":"bin","t":178.760,"f":0.750,"r":-0.012},{"p":3,"k":"bin","t":178.780,"f":0.752,"r":-0.013},{"p":3,"k":"bin","t":178.800,"f":0.756,"r":-0.012},{"p":3,"k":"bin","t":178.820,"f":0.760,"r":-0.012},{"p":3,"k":"bin","t":178.840,"f":0.764,"r":-0.011},{"p":3,"k":"bin","t":178.860,"f":0.766,"r":-0.011},{"p":3,"k":"bin","t":178.880,"f":0.770,"r":-0.010},{"p":3,"k":"bin","t":178.900,"f":0.773,"r":-0.009},{"p":3,"k":"bin","t":178.912,"f":0.779,"r":-0.004},{"p":3,"k":"bin","t":178.922,"f":0.786,"r":0.004},{"p":3,"k":"bin","t":178.932,"f":0.795,"r":0.013},{"p":3,"k":"bin","t":178.942,"f":0.804,"r":0.023},{"p":3,"k":"bin","t":178.950,"f":0.810,"r":0.030},
      {"p":3,"k":"raw","t":178.617,"f":0.764,"r":0.006},{"p":3,"k":"raw","t":178.623,"f":0.741,"r":-0.017},{"p":3,"k":"raw","t":178.637,"f":0.767,"r":0.009},{"p":3,"k":"raw","t":178.643,"f":0.735,"r":-0.023},{"p":3,"k":"raw","t":178.657,"f":0.758,"r":0.000},{"p":3,"k":"raw","t":178.663,"f":0.735,"r":-0.023},{"p":3,"k":"raw","t":178.677,"f":0.762,"r":0.004},{"p":3,"k":"raw","t":178.683,"f":0.738,"r":-0.020},{"p":3,"k":"raw","t":178.697,"f":0.766,"r":0.008},{"p":3,"k":"raw","t":178.703,"f":0.731,"r":-0.027},{"p":3,"k":"raw","t":178.717,"f":0.757,"r":-0.001},{"p":3,"k":"raw","t":178.723,"f":0.734,"r":-0.024},{"p":3,"k":"raw","t":178.737,"f":0.759,"r":0.001},{"p":3,"k":"raw","t":178.743,"f":0.736,"r":-0.022},{"p":3,"k":"raw","t":178.757,"f":0.767,"r":0.005},{"p":3,"k":"raw","t":178.763,"f":0.735,"r":-0.027},{"p":3,"k":"raw","t":178.777,"f":0.761,"r":-0.004},{"p":3,"k":"raw","t":178.783,"f":0.738,"r":-0.027},{"p":3,"k":"raw","t":178.797,"f":0.771,"r":0.003},{"p":3,"k":"raw","t":178.803,"f":0.747,"r":-0.021},{"p":3,"k":"raw","t":178.817,"f":0.778,"r":0.006},{"p":3,"k":"raw","t":178.823,"f":0.743,"r":-0.029},{"p":3,"k":"raw","t":178.837,"f":0.775,"r":0.000},{"p":3,"k":"raw","t":178.843,"f":0.752,"r":-0.023},{"p":3,"k":"raw","t":178.857,"f":0.778,"r":0.001},{"p":3,"k":"raw","t":178.863,"f":0.755,"r":-0.022},{"p":3,"k":"raw","t":178.877,"f":0.787,"r":0.007},{"p":3,"k":"raw","t":178.883,"f":0.755,"r":-0.025},{"p":3,"k":"raw","t":178.897,"f":0.782,"r":0.000},{"p":3,"k":"raw","t":178.903,"f":0.759,"r":-0.023},{"p":3,"k":"raw","t":178.909,"f":0.794,"r":0.011},{"p":3,"k":"raw","t":178.915,"f":0.770,"r":-0.013},{"p":3,"k":"raw","t":178.919,"f":0.798,"r":0.016},{"p":3,"k":"raw","t":178.925,"f":0.775,"r":-0.007},{"p":3,"k":"raw","t":178.929,"f":0.812,"r":0.030},{"p":3,"k":"raw","t":178.935,"f":0.780,"r":-0.002},{"p":3,"k":"raw","t":178.939,"f":0.822,"r":0.041},{"p":3,"k":"raw","t":178.945,"f":0.787,"r":0.006},{"p":3,"k":"raw","t":178.947,"f":0.825,"r":0.045},{"p":3,"k":"raw","t":178.953,"f":0.798,"r":0.018},{"p":3,"k":"raw","t":178.946,"f":0.742,"r":-0.039},
      {"p":3,"k":"bin","t":179.560,"f":0.753,"r":-0.012},{"p":3,"k":"bin","t":179.580,"f":0.752,"r":-0.011},{"p":3,"k":"bin","t":179.600,"f":0.750,"r":-0.011},{"p":3,"k":"bin","t":179.620,"f":0.749,"r":-0.010},{"p":3,"k":"bin","t":179.640,"f":0.748,"r":-0.010},{"p":3,"k":"bin","t":179.660,"f":0.749,"r":-0.009},{"p":3,"k":"bin","t":179.680,"f":0.751,"r":-0.007},{"p":3,"k":"bin","t":179.700,"f":0.752,"r":-0.006},{"p":3,"k":"bin","t":179.720,"f":0.754,"r":-0.004},{"p":3,"k":"bin","t":179.740,"f":0.757,"r":-0.001},{"p":3,"k":"bin","t":179.755,"f":0.762,"r":0.004},{"p":3,"k":"bin","t":179.770,"f":0.770,"r":0.008},{"p":3,"k":"bin","t":179.785,"f":0.790,"r":0.009},{"p":3,"k":"bin","t":179.800,"f":0.809,"r":0.010},{"p":3,"k":"bin","t":179.815,"f":0.835,"r":0.014},{"p":3,"k":"bin","t":179.830,"f":0.861,"r":0.016},{"p":3,"k":"bin","t":179.845,"f":0.887,"r":0.019},{"p":3,"k":"bin","t":179.860,"f":0.914,"r":0.022},{"p":3,"k":"bin","t":179.875,"f":0.933,"r":0.025},{"p":3,"k":"bin","t":179.890,"f":0.949,"r":0.029},{"p":3,"k":"bin","t":179.905,"f":0.966,"r":0.034},{"p":3,"k":"bin","t":179.915,"f":0.980,"r":0.040},{"p":3,"k":"bin","t":179.925,"f":0.993,"r":0.045},{"p":3,"k":"bin","t":179.932,"f":1.005,"r":0.051},
      {"p":3,"k":"raw","t":179.557,"f":0.765,"r":0.000},{"p":3,"k":"raw","t":179.563,"f":0.742,"r":-0.023},{"p":3,"k":"raw","t":179.577,"f":0.769,"r":0.006},{"p":3,"k":"raw","t":179.583,"f":0.737,"r":-0.026},{"p":3,"k":"raw","t":179.597,"f":0.759,"r":-0.002},{"p":3,"k":"raw","t":179.603,"f":0.736,"r":-0.025},{"p":3,"k":"raw","t":179.617,"f":0.764,"r":0.005},{"p":3,"k":"raw","t":179.623,"f":0.740,"r":-0.019},{"p":3,"k":"raw","t":179.637,"f":0.766,"r":0.008},{"p":3,"k":"raw","t":179.643,"f":0.731,"r":-0.027},{"p":3,"k":"raw","t":179.657,"f":0.760,"r":0.002},{"p":3,"k":"raw","t":179.663,"f":0.737,"r":-0.021},{"p":3,"k":"raw","t":179.677,"f":0.763,"r":0.005},{"p":3,"k":"raw","t":179.683,"f":0.740,"r":-0.018},{"p":3,"k":"raw","t":179.697,"f":0.769,"r":0.011},{"p":3,"k":"raw","t":179.703,"f":0.737,"r":-0.021},{"p":3,"k":"raw","t":179.717,"f":0.763,"r":0.005},{"p":3,"k":"raw","t":179.723,"f":0.740,"r":-0.018},{"p":3,"k":"raw","t":179.737,"f":0.772,"r":0.014},{"p":3,"k":"raw","t":179.743,"f":0.748,"r":-0.010},{"p":3,"k":"raw","t":179.752,"f":0.780,"r":0.022},{"p":3,"k":"raw","t":179.758,"f":0.745,"r":-0.013},{"p":3,"k":"raw","t":179.767,"f":0.781,"r":0.019},{"p":3,"k":"raw","t":179.773,"f":0.758,"r":-0.004},{"p":3,"k":"raw","t":179.782,"f":0.802,"r":0.021},{"p":3,"k":"raw","t":179.788,"f":0.779,"r":-0.002},{"p":3,"k":"raw","t":179.797,"f":0.826,"r":0.027},{"p":3,"k":"raw","t":179.803,"f":0.794,"r":-0.005},{"p":3,"k":"raw","t":179.812,"f":0.844,"r":0.023},{"p":3,"k":"raw","t":179.818,"f":0.821,"r":0.000},{"p":3,"k":"raw","t":179.827,"f":0.876,"r":0.031},{"p":3,"k":"raw","t":179.833,"f":0.852,"r":0.007},{"p":3,"k":"raw","t":179.842,"f":0.905,"r":0.037},{"p":3,"k":"raw","t":179.848,"f":0.870,"r":0.002},{"p":3,"k":"raw","t":179.857,"f":0.925,"r":0.033},{"p":3,"k":"raw","t":179.863,"f":0.902,"r":0.010},{"p":3,"k":"raw","t":179.872,"f":0.945,"r":0.037},{"p":3,"k":"raw","t":179.878,"f":0.922,"r":0.014},{"p":3,"k":"raw","t":179.887,"f":0.966,"r":0.046},{"p":3,"k":"raw","t":179.893,"f":0.934,"r":0.014},{"p":3,"k":"raw","t":179.902,"f":0.975,"r":0.043},{"p":3,"k":"raw","t":179.908,"f":0.952,"r":0.020},{"p":3,"k":"raw","t":179.912,"f":0.995,"r":0.055},{"p":3,"k":"raw","t":179.918,"f":0.966,"r":0.026},{"p":3,"k":"raw","t":179.922,"f":1.002,"r":0.054},{"p":3,"k":"raw","t":179.928,"f":0.981,"r":0.033},{"p":3,"k":"raw","t":179.929,"f":1.016,"r":0.062},{"p":3,"k":"raw","t":179.935,"f":0.993,"r":0.039},{"p":3,"k":"raw","t":179.936,"f":1.050,"r":0.060},{"p":3,"k":"raw","t":179.934,"f":1.030,"r":0.055},
      {"p":3,"k":"bin","t":180.590,"f":0.998,"r":-0.006},{"p":3,"k":"bin","t":180.610,"f":0.996,"r":-0.008},{"p":3,"k":"bin","t":180.630,"f":0.999,"r":-0.005},{"p":3,"k":"bin","t":180.650,"f":0.997,"r":-0.007},{"p":3,"k":"bin","t":180.670,"f":0.995,"r":-0.010},{"p":3,"k":"bin","t":180.690,"f":0.998,"r":-0.007},{"p":3,"k":"bin","t":180.710,"f":1.000,"r":-0.005},{"p":3,"k":"bin","t":180.730,"f":0.999,"r":-0.006},{"p":3,"k":"bin","t":180.750,"f":1.001,"r":-0.005},{"p":3,"k":"bin","t":180.770,"f":1.000,"r":-0.006},{"p":3,"k":"bin","t":180.790,"f":1.002,"r":-0.004},{"p":3,"k":"bin","t":180.810,"f":1.003,"r":-0.003},{"p":3,"k":"bin","t":180.830,"f":1.001,"r":-0.005},{"p":3,"k":"bin","t":180.850,"f":1.004,"r":-0.002},{"p":3,"k":"bin","t":180.870,"f":1.006,"r":0.000},{"p":3,"k":"bin","t":180.890,"f":1.008,"r":0.002},{"p":3,"k":"bin","t":180.910,"f":1.010,"r":0.004},{"p":3,"k":"bin","t":180.930,"f":1.012,"r":0.006},{"p":3,"k":"bin","t":180.950,"f":1.011,"r":0.005},{"p":3,"k":"bin","t":180.970,"f":1.013,"r":0.007},
      {"p":3,"k":"raw","t":180.587,"f":1.010,"r":0.006},{"p":3,"k":"raw","t":180.593,"f":0.987,"r":-0.017},{"p":3,"k":"raw","t":180.607,"f":1.013,"r":0.009},{"p":3,"k":"raw","t":180.613,"f":0.981,"r":-0.023},{"p":3,"k":"raw","t":180.627,"f":1.008,"r":0.004},{"p":3,"k":"raw","t":180.633,"f":0.985,"r":-0.019},{"p":3,"k":"raw","t":180.647,"f":1.012,"r":0.008},{"p":3,"k":"raw","t":180.653,"f":0.988,"r":-0.016},{"p":3,"k":"raw","t":180.667,"f":1.013,"r":0.008},{"p":3,"k":"raw","t":180.673,"f":0.978,"r":-0.027},{"p":3,"k":"raw","t":180.687,"f":1.009,"r":0.004},{"p":3,"k":"raw","t":180.693,"f":0.986,"r":-0.019},{"p":3,"k":"raw","t":180.707,"f":1.012,"r":0.007},{"p":3,"k":"raw","t":180.713,"f":0.989,"r":-0.016},{"p":3,"k":"raw","t":180.727,"f":1.016,"r":0.011},{"p":3,"k":"raw","t":180.733,"f":0.984,"r":-0.021},{"p":3,"k":"raw","t":180.747,"f":1.010,"r":0.004},{"p":3,"k":"raw","t":180.753,"f":0.987,"r":-0.019},{"p":3,"k":"raw","t":180.767,"f":1.015,"r":0.009},{"p":3,"k":"raw","t":180.773,"f":0.991,"r":-0.015},{"p":3,"k":"raw","t":180.787,"f":1.020,"r":0.014},{"p":3,"k":"raw","t":180.793,"f":0.985,"r":-0.021},{"p":3,"k":"raw","t":180.807,"f":1.014,"r":0.008},{"p":3,"k":"raw","t":180.813,"f":0.991,"r":-0.015},{"p":3,"k":"raw","t":180.827,"f":1.013,"r":0.007},{"p":3,"k":"raw","t":180.833,"f":0.990,"r":-0.016},{"p":3,"k":"raw","t":180.847,"f":1.021,"r":0.015},{"p":3,"k":"raw","t":180.853,"f":0.989,"r":-0.017},{"p":3,"k":"raw","t":180.867,"f":1.024,"r":0.018},{"p":3,"k":"raw","t":180.873,"f":0.991,"r":-0.015},{"p":3,"k":"raw","t":180.887,"f":1.019,"r":0.013},{"p":3,"k":"raw","t":180.893,"f":0.996,"r":-0.010},{"p":3,"k":"raw","t":180.907,"f":1.030,"r":0.024},{"p":3,"k":"raw","t":180.913,"f":0.994,"r":-0.012},{"p":3,"k":"raw","t":180.927,"f":1.036,"r":0.030},{"p":3,"k":"raw","t":180.933,"f":0.996,"r":-0.010},{"p":3,"k":"raw","t":180.947,"f":1.040,"r":0.034},{"p":3,"k":"raw","t":180.953,"f":0.994,"r":-0.012},{"p":3,"k":"raw","t":180.967,"f":1.048,"r":0.042},{"p":3,"k":"raw","t":180.973,"f":0.995,"r":-0.011},{"p":3,"k":"raw","t":180.955,"f":1.058,"r":0.048},{"p":3,"k":"raw","t":180.975,"f":1.062,"r":0.052},{"p":3,"k":"raw","t":180.940,"f":0.968,"r":-0.032},{"p":3,"k":"raw","t":180.960,"f":0.965,"r":-0.035}
    ]
  },
  "columns": 3,
  "spacing": {"row": 12, "column": 0},
  "bounds": "flush",
  "align": "each",
  "concat": [
    {
      "width": 346, "height": 386,
      "resolve": {"scale": {"x": "independent"}},
      "layer": [
        {"data": {"name": "obs"}, "transform": [{"filter": "datum.p == 1 && datum.k == 'raw'"}],
         "mark": {"type": "circle", "size": 60, "color": "#e9967a", "opacity": 1, "clip": true},
         "encoding": {
           "x": {"field": "t", "type": "quantitative", "scale": {"domain": [48.702, 53.688], "nice": false, "zero": false}, "axis": {"orient": "bottom", "values": [49.7, 50.7, 51.7, 52.7], "tickCount": 1000, "labels": false, "tickSize": -5, "title": null}},
           "y": {"field": "f", "type": "quantitative", "scale": {"domain": [0.531, 1.07], "nice": false, "zero": false},
                 "axis": {"orient": "left", "values": [0.54,0.56,0.58,0.6,0.62,0.64,0.66,0.68,0.7,0.72,0.74,0.76,0.78,0.8,0.82,0.84,0.86,0.88,0.9,0.92,0.94,0.96,0.98,1.0,1.02,1.04,1.06], "tickCount": 1000,
                          "labelExpr": "abs(datum.value*10 - round(datum.value*10)) < 0.001 ? format(datum.value, '.2f') : ''",
                          "labelOverlap": false, "tickSize": -4, "labelPadding": 25, "labelBaseline": "alphabetic", "labelOffset": 12,
                          "title": "Relative Flux", "titleX": -103, "titleY": 193, "titleAngle": 270, "titleAlign": "center", "titleBaseline": "alphabetic"}}
         }},
        {"data": {"name": "obs"}, "transform": [{"filter": "datum.p == 1 && datum.k == 'bin'"}],
         "mark": {"type": "circle", "size": 60, "color": "#ff0000", "opacity": 1, "clip": true},
         "encoding": {
           "x": {"field": "t", "type": "quantitative", "scale": {"domain": [48.702, 53.688], "nice": false, "zero": false}, "axis": null},
           "y": {"field": "f", "type": "quantitative", "title": "Relative Flux"}
         }},
        {"data": {"name": "model"}, "transform": [{"filter": "datum.p == 1"}],
         "mark": {"type": "line", "color": "#000000", "strokeWidth": 1.2, "clip": true},
         "encoding": {
           "x": {"field": "t", "type": "quantitative", "scale": {"domain": [48.702, 53.688], "nice": false, "zero": false}, "axis": {"orient": "top", "values": [50.935], "tickCount": 1000, "labelExpr": "'3.56'", "labelOverlap": false, "tickSize": -4, "labelPadding": 25, "labelBaseline": "alphabetic", "title": null}},
           "y": {"field": "m", "type": "quantitative", "title": "Relative Flux"}
         }}
      ]
    },
    {
      "width": 271, "height": 386,
      "resolve": {"scale": {"x": "independent"}},
      "layer": [
        {"data": {"name": "obs"}, "transform": [{"filter": "datum.p == 2 && datum.k == 'raw'"}],
         "mark": {"type": "circle", "size": 60, "color": "#e9967a", "opacity": 1, "clip": true},
         "encoding": {
           "x": {"field": "t", "type": "quantitative", "scale": {"domain": [138.397, 142.285], "nice": false, "zero": false}, "axis": {"orient": "bottom", "values": [139.4, 140.4, 141.4], "tickCount": 1000, "labels": false, "tickSize": -5, "title": null}},
           "y": {"field": "f", "type": "quantitative", "scale": {"domain": [0.531, 1.07], "nice": false, "zero": false}, "axis": null}
         }},
        {"data": {"name": "obs"}, "transform": [{"filter": "datum.p == 2 && datum.k == 'bin'"}],
         "mark": {"type": "circle", "size": 60, "color": "#ff0000", "opacity": 1, "clip": true},
         "encoding": {
           "x": {"field": "t", "type": "quantitative", "scale": {"domain": [138.397, 142.285], "nice": false, "zero": false}, "axis": null},
           "y": {"field": "f", "type": "quantitative", "axis": null}
         }},
        {"data": {"name": "model"}, "transform": [{"filter": "datum.p == 2"}],
         "mark": {"type": "line", "color": "#000000", "strokeWidth": 1.2, "clip": true},
         "encoding": {
           "x": {"field": "t", "type": "quantitative", "scale": {"domain": [138.397, 142.285], "nice": false, "zero": false},
                 "axis": {"orient": "top", "values": [140.1], "tickCount": 1000, "labelExpr": "'4.56'", "labelOverlap": false, "tickSize": -4, "labelPadding": 25, "labelBaseline": "alphabetic",
                          "title": "Mean photometric phase of the wide orbit", "titleFontSize": 31.6, "titleX": 84.7, "titleY": -73.5, "titleAlign": "center", "titleBaseline": "alphabetic"}},
           "y": {"field": "m", "type": "quantitative", "axis": null}
         }}
      ]
    },
    {
      "width": 240, "height": 386,
      "resolve": {"scale": {"x": "independent"}},
      "layer": [
        {"data": {"name": "obs"}, "transform": [{"filter": "datum.p == 3 && datum.k == 'raw'"}],
         "mark": {"type": "circle", "size": 60, "color": "#e9967a", "opacity": 1, "clip": true},
         "encoding": {
           "x": {"field": "t", "type": "quantitative", "scale": {"domain": [177.499, 180.995], "nice": false, "zero": false}, "axis": {"orient": "bottom", "values": [177.61, 178.62, 179.62, 180.63], "tickCount": 1000, "labels": false, "tickSize": -5, "title": null}},
           "y": {"field": "f", "type": "quantitative", "scale": {"domain": [0.531, 1.07], "nice": false, "zero": false}, "axis": null}
         }},
        {"data": {"name": "obs"}, "transform": [{"filter": "datum.p == 3 && datum.k == 'bin'"}],
         "mark": {"type": "circle", "size": 60, "color": "#ff0000", "opacity": 1, "clip": true},
         "encoding": {
           "x": {"field": "t", "type": "quantitative", "scale": {"domain": [177.499, 180.995], "nice": false, "zero": false}, "axis": null},
           "y": {"field": "f", "type": "quantitative", "axis": null}
         }},
        {"data": {"name": "model"}, "transform": [{"filter": "datum.p == 3"}],
         "mark": {"type": "line", "color": "#000000", "strokeWidth": 1.2, "clip": true},
         "encoding": {
           "x": {"field": "t", "type": "quantitative", "scale": {"domain": [177.499, 180.995], "nice": false, "zero": false}, "axis": {"orient": "top", "values": [179.224], "tickCount": 1000, "labelExpr": "'5.00'", "labelOverlap": false, "tickSize": -4, "labelPadding": 25, "labelBaseline": "alphabetic", "title": null}},
           "y": {"field": "m", "type": "quantitative", "axis": null}
         }}
      ]
    },
    {
      "width": 346, "height": 74,
      "layer": [
        {"data": {"name": "obs"}, "transform": [{"filter": "datum.p == 1 && datum.k == 'raw'"}],
         "mark": {"type": "circle", "size": 60, "color": "#e9967a", "opacity": 1, "clip": true},
         "encoding": {
           "x": {"field": "t", "type": "quantitative", "scale": {"domain": [48.702, 53.688], "nice": false, "zero": false}, "axis": {"orient": "bottom", "values": [49, 51, 53], "tickCount": 1000, "format": "d", "labelOverlap": false, "tickSize": -5, "labelPadding": 47, "labelBaseline": "alphabetic", "title": null}},
           "y": {"field": "r", "type": "quantitative", "scale": {"domain": [-0.065, 0.065], "nice": false, "zero": false},
                 "axis": {"orient": "left", "values": [-0.06,-0.05,-0.04,-0.03,-0.02,-0.01,0,0.01,0.02,0.03,0.04,0.05,0.06], "tickCount": 1000,
                          "labelExpr": "abs(datum.value*20 - round(datum.value*20)) < 0.001 ? (datum.value < -0.001 ? '-' + format(-datum.value, '.2f') : format(abs(datum.value), '.2f')) : ''",
                          "labelOverlap": false, "labelFontSize": 28, "tickSize": -4, "labelPadding": 25, "labelBaseline": "alphabetic", "labelOffset": 10,
                          "title": "Residual Flux", "titleX": -103, "titleY": 33, "titleAngle": 270, "titleAlign": "center", "titleBaseline": "alphabetic"}}
         }},
        {"data": {"name": "obs"}, "transform": [{"filter": "datum.p == 1 && datum.k == 'bin'"}],
         "mark": {"type": "circle", "size": 60, "color": "#ff0000", "opacity": 1, "clip": true},
         "encoding": {
           "x": {"field": "t", "type": "quantitative"},
           "y": {"field": "r", "type": "quantitative", "title": "Residual Flux"}
         }}
      ]
    },
    {
      "width": 271, "height": 74,
      "layer": [
        {"data": {"name": "obs"}, "transform": [{"filter": "datum.p == 2 && datum.k == 'raw'"}],
         "mark": {"type": "circle", "size": 60, "color": "#e9967a", "opacity": 1, "clip": true},
         "encoding": {
           "x": {"field": "t", "type": "quantitative", "scale": {"domain": [138.397, 142.285], "nice": false, "zero": false},
                 "axis": {"orient": "bottom", "values": [139, 141], "tickCount": 1000, "format": "d", "labelOverlap": false, "tickSize": -5, "labelPadding": 47, "labelBaseline": "alphabetic",
                          "title": "BJD - 2459000", "titleX": 84.7, "titleY": 87, "titleAlign": "center", "titleBaseline": "alphabetic"}},
           "y": {"field": "r", "type": "quantitative", "scale": {"domain": [-0.065, 0.065], "nice": false, "zero": false}, "axis": null}
         }},
        {"data": {"name": "obs"}, "transform": [{"filter": "datum.p == 2 && datum.k == 'bin'"}],
         "mark": {"type": "circle", "size": 60, "color": "#ff0000", "opacity": 1, "clip": true},
         "encoding": {
           "x": {"field": "t", "type": "quantitative", "title": "BJD - 2459000"},
           "y": {"field": "r", "type": "quantitative", "axis": null}
         }}
      ]
    },
    {
      "width": 240, "height": 74,
      "layer": [
        {"data": {"name": "obs"}, "transform": [{"filter": "datum.p == 3 && datum.k == 'raw'"}],
         "mark": {"type": "circle", "size": 60, "color": "#e9967a", "opacity": 1, "clip": true},
         "encoding": {
           "x": {"field": "t", "type": "quantitative", "scale": {"domain": [177.499, 180.995], "nice": false, "zero": false}, "axis": {"orient": "bottom", "values": [178, 180], "tickCount": 1000, "format": "d", "labelOverlap": false, "tickSize": -5, "labelPadding": 47, "labelBaseline": "alphabetic", "title": null}},
           "y": {"field": "r", "type": "quantitative", "scale": {"domain": [-0.065, 0.065], "nice": false, "zero": false}, "axis": null}
         }},
        {"data": {"name": "obs"}, "transform": [{"filter": "datum.p == 3 && datum.k == 'bin'"}],
         "mark": {"type": "circle", "size": 60, "color": "#ff0000", "opacity": 1, "clip": true},
         "encoding": {
           "x": {"field": "t", "type": "quantitative"},
           "y": {"field": "r", "type": "quantitative", "axis": null}
         }}
      ]
    }
  ]
}
